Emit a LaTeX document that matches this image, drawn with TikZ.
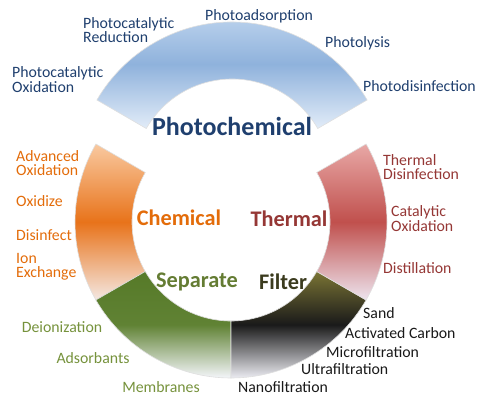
\documentclass[tikz,border=0pt]{standalone}
\usepackage{fontspec}
\setmainfont{Carlito}
\usepackage{tikz}
\usetikzlibrary{calc}
\definecolor{bluetxt}{HTML}{1F3F6E}
\definecolor{orangetxt}{HTML}{E36C0A}
\definecolor{greentxt}{HTML}{76923C}
\definecolor{redtxt}{HTML}{953735}
\definecolor{filtertxt}{HTML}{3B3B1E}
\definecolor{bluetop}{HTML}{C9DCF2}
\definecolor{bluemid}{HTML}{8FB2DC}
\definecolor{bluebot}{HTML}{E2ECF8}
\newcommand{\ringpart}[3]{([shift={(#1)}]#2:156) arc[start angle=#2, end angle=#3, radius=156] -- ([shift={(#1)}]#3:99) arc[start angle=#3, end angle=#2, radius=99] -- cycle}

\begin{document}
\begin{tikzpicture}[x=1pt,y=1pt,
  lbl/.style={font=\fontsize{15.8}{14.5}\selectfont, inner sep=0pt, align=left},
  head/.style={font=\fontsize{22.3}{24}\selectfont\bfseries, inner sep=0pt},
  edge/.style={draw=white!75!gray, line width=0.6pt}]
\useasboundingbox (0,0) rectangle (494,400);
\coordinate (top) at (232,222); %photochemical centre
\coordinate (ctr) at (231,178); %ring centre

\shade[edge, top color=bluetop, bottom color=bluebot, middle color=bluemid] \ringpart{top}{30}{150}; %photochemical
\shade[edge, top color={rgb,255:red,249;green,201;blue,160}, bottom color={rgb,255:red,244;green,232;blue,226}, middle color={rgb,255:red,232;green,115;blue,26}] \ringpart{ctr}{150}{210}; %chemical
\shade[edge, top color={rgb,255:red,86;green,122;blue,40}, bottom color={rgb,255:red,244;green,246;blue,250}, middle color={rgb,255:red,96;green,130;blue,52}] \ringpart{ctr}{210}{270}; %separate
\shade[edge, top color={rgb,255:red,122;green,116;blue,52}, bottom color={rgb,255:red,236;green,236;blue,242}, middle color={rgb,255:red,26;green,26;blue,26}] \ringpart{ctr}{270}{330}; %filter
\shade[edge, top color={rgb,255:red,232;green,168;blue,166}, bottom color={rgb,255:red,237;green,228;blue,238}, middle color={rgb,255:red,192;green,80;blue,77}] \ringpart{ctr}{330}{390}; %thermal

\node[head, bluetxt, font=\fontsize{26}{28}\selectfont\bfseries] (photo) at (232,274) {Photochemical}; %headings
\node[head, orangetxt] (chem) at (179,182) {Chemical};
\node[head, redtxt] (therm) at (289,181) {Thermal};
\node[head, greentxt!85!black] (sep) at (197,118) {Separate};
\node[head, filtertxt] (filt) at (283,118) {Filter};

\node[lbl, bluetxt, anchor=west] (pcox) at (12,320.5) {Photocatalytic\\Oxidation}; %photochemical labels
\node[lbl, bluetxt, anchor=west] (pcred) at (83,370) {Photocatalytic\\Reduction};
\node[lbl, bluetxt] (pads) at (259,384) {Photoadsorption};
\node[lbl, bluetxt, anchor=west] (plys) at (325,357) {Photolysis};
\node[lbl, bluetxt, anchor=west] (pdis) at (363,314) {Photodisinfection};

\node[lbl, orangetxt, anchor=west] (advox) at (16,237) {Advanced\\Oxidation}; %chemical labels
\node[lbl, orangetxt, anchor=west] (oxid) at (16,199) {Oxidize};
\node[lbl, orangetxt, anchor=west] (disf) at (16,165) {Disinfect};
\node[lbl, orangetxt, anchor=west] (ionx) at (16,133) {Ion\\Exchange};

\node[lbl, greentxt] (deion) at (62,73) {Deionization}; %separate labels
\node[lbl, greentxt] (adsb) at (93,42) {Adsorbants};
\node[lbl, greentxt] (memb) at (161,13) {Membranes};

\node[lbl, black!90, anchor=west] (sand) at (363,87) {Sand}; %filter labels
\node[lbl, black!90, anchor=west] (actc) at (345,67) {Activated Carbon};
\node[lbl, black!90, anchor=west] (micro) at (326,48) {Microfiltration};
\node[lbl, black!90, anchor=west] (ultra) at (301,31) {Ultrafiltration};
\node[lbl, black!90, anchor=west] (nano) at (238,13) {Nanofiltration};

\node[lbl, redtxt, anchor=west] (thdis) at (383,233) {Thermal\\Disinfection}; %thermal labels
\node[lbl, redtxt, anchor=west] (catox) at (391,181.5) {Catalytic\\Oxidation};
\node[lbl, redtxt, anchor=west] (dist) at (383,132) {Distillation};
\end{tikzpicture}
\end{document}
